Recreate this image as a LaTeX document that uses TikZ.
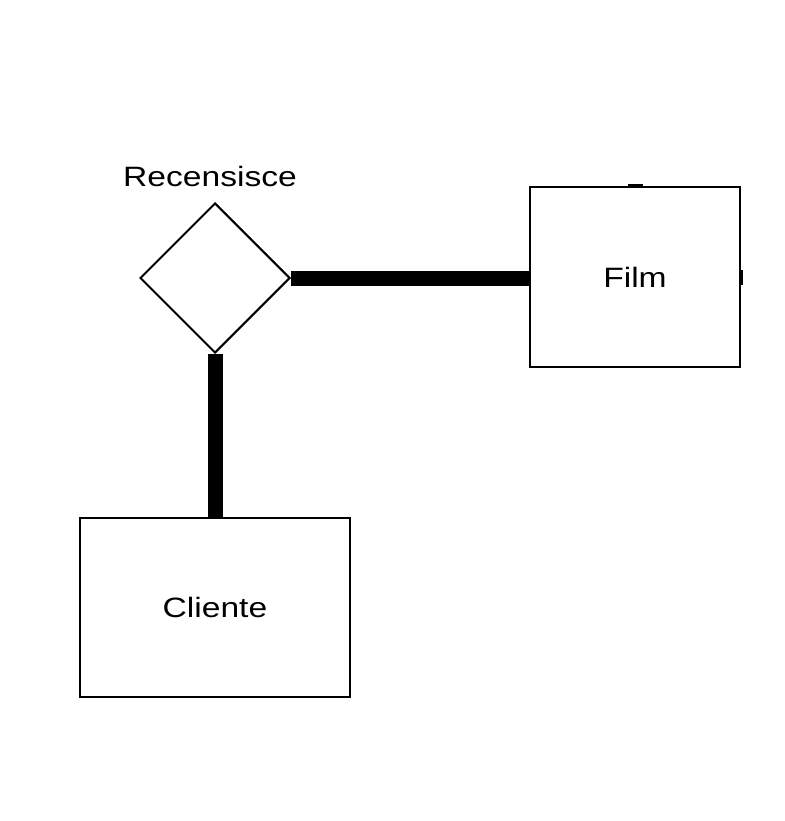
\documentclass[tikz,border=0pt]{standalone}
\usepackage{fontspec}
\usepackage{graphicx}
\setmainfont{Liberation Sans}
\usetikzlibrary{shapes.geometric}
\tikzset{
  entity/.style={draw=black, line width=2pt, rectangle, inner sep=0pt,
    minimum width=210pt, minimum height=180pt, font=\fontsize{28}{34}\selectfont},
  relation/.style={draw=black, line width=2pt, diamond, inner sep=0pt, aspect=1,
    minimum width=150pt, minimum height=150pt},
  lbl/.style={inner sep=0pt, font=\fontsize{28}{34}\selectfont},
  link/.style={draw=black, line width=15pt},
  stub/.style={fill=black},
}
\newcommand{\wide}[1]{\scalebox{1.2}[1]{#1}}
\begin{document}
\begin{tikzpicture}[x=1pt, y=-1pt]
  \useasboundingbox (0,0) rectangle (784,821);
  \fill[white] (0,0) rectangle (784,821);
  \node[relation] (rel) at (215,278) {};
  \node[lbl] (rellbl) at (210,176) {\wide{Recensisce}};
  \node[entity] (film) at (635,277) {\wide{Film}};
  \node[entity, minimum width=270pt, minimum height=179pt] (cli) at (215,607.5) {\wide{Cliente}};
  \draw[link] (rel.east) -- (rel.east -| film.west);
  \draw[link] (rel.south) -- (cli.north);
  \fill[stub] (628,184) rectangle (643,188);
  \fill[stub] (740,270) rectangle (743,285);
\end{tikzpicture}
\end{document}
